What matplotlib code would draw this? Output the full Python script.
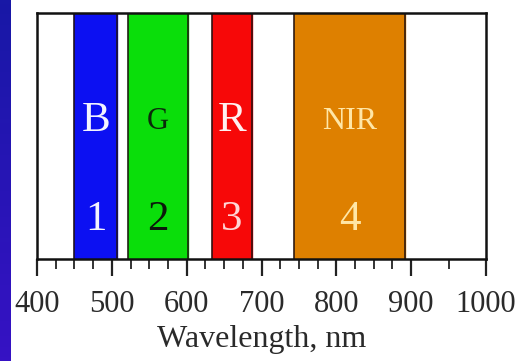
import numpy as np
import matplotlib
matplotlib.use("Agg")
import matplotlib.pyplot as plt

# bands (nm)
band_names = ['B', 'G', 'R', 'NIR']
band_numbers = ['1', '2', '3', '4']
band_start = [450, 522, 634, 743]
band_end = [507, 602, 687, 892]
band_colors = ['#0c10f2', '#0ade0a', '#f70808', '#de8000']
name_colors = ['#f4f4ff', '#0b2a0b', '#fff0f0', '#ffe6a6']
number_colors = ['#f4f4ff', '#0b1a0b', '#ffd6d6', '#ffe6a6']
name_sizes = [31, 22, 31, 23]

major_ticks = [400, 500, 600, 700, 800, 900, 1000]
minor_ticks = [425, 450, 475, 525, 550, 575, 625, 650, 675,
               725, 750, 775, 825, 850, 875, 950]

plt.rcParams['font.family'] = ['Liberation Serif', 'DejaVu Serif']

fig = plt.figure(figsize=(5.27, 3.61), dpi=100)
fig.patch.set_facecolor('white')

# blue slide strip on the left edge
strip = fig.add_axes([0, 0, 11 / 527, 1])
grad = np.linspace(0, 1, 100).reshape(-1, 1)
strip.imshow(grad, aspect='auto', extent=(0, 1, 0, 1),
             cmap=matplotlib.colors.LinearSegmentedColormap.from_list(
                 'slide', ['#1818a6', '#3612c4']))
strip.axis('off')

ax = fig.add_axes([37 / 527, 1 - 259 / 361, 449 / 527, 246 / 361])
for i in range(len(band_names)):
    ax.axvspan(band_start[i], band_end[i], color=band_colors[i], zorder=1)
    ax.axvline(band_start[i], color='#201010', lw=1.1, zorder=2)
    ax.axvline(band_end[i], color='#201010', lw=1.1, zorder=2)
    mid = (band_start[i] + band_end[i]) / 2
    ax.text(mid, 0.56, band_names[i], color=name_colors[i], fontsize=name_sizes[i],
            ha='center', va='center', transform=ax.get_xaxis_transform())
    ax.text(mid, 0.16, band_numbers[i], color=number_colors[i], fontsize=31,
            ha='center', va='center', transform=ax.get_xaxis_transform())

ax.set_xlim(400, 1000)
ax.set_ylim(0, 1)
ax.set_yticks([])
ax.set_xticks(major_ticks)
ax.set_xticks(minor_ticks, minor=True)
ax.tick_params(axis='x', which='major', length=12, width=1.6, color='#222222',
               direction='out', labelsize=22, labelcolor='#2a2a2a', pad=10)
ax.tick_params(axis='x', which='minor', length=7, width=1.4, color='#333333',
               direction='out')
for s in ax.spines.values():
    s.set_linewidth(1.8)
    s.set_color('#111111')
ax.set_xlabel('Wavelength, nm', fontsize=23, color='#2a2a2a', labelpad=5)

fig.savefig('out.png', dpi=100)
